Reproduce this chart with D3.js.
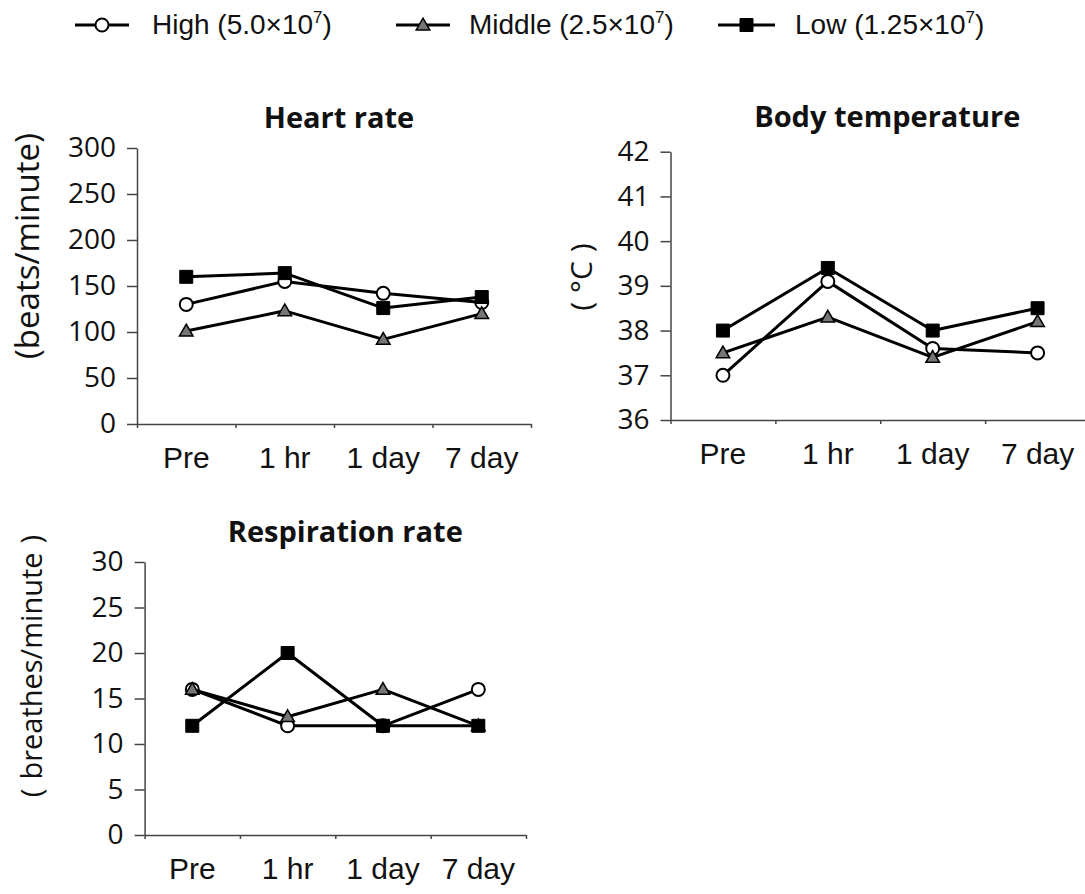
<!DOCTYPE html>
<html>
<head>
<meta charset="utf-8">
<script src="https://cdn.jsdelivr.net/npm/d3@7"></script>
<style>
  html, body { margin: 0; padding: 0; background: #fff; }
  svg { display: block; }
  .tick-num { font-family: "Open Sans", "Noto Sans", sans-serif; font-size: 28px; fill: #111; }
  .cat { font-family: "Liberation Sans", Arial, sans-serif; font-size: 30px; fill: #111; }
  .title { font-family: "Open Sans", sans-serif; font-weight: bold; font-size: 29px; fill: #111; }
  .ylab { font-family: "Open Sans", sans-serif; fill: #111; }
  .legend { font-family: "Liberation Sans", Arial, sans-serif; font-size: 28px; fill: #111; }
</style>
</head>
<body>
<div id="chart"></div>
<script>
// categories and series
const categories = ["Pre", "1 hr", "1 day", "7 day"];
const seriesNames = ["High", "Middle", "Low"];
const doses = ["5.0", "2.5", "1.25"];
const doseExponent = "7";

const heartHigh = [130, 155, 142, 132];
const heartMiddle = [101, 123, 92, 120];
const heartLow = [160, 164, 126, 138];
const heartTicks = [0, 50, 100, 150, 200, 250, 300];

const tempHigh = [37.0, 39.1, 37.6, 37.5];
const tempMiddle = [37.5, 38.3, 37.4, 38.2];
const tempLow = [38.0, 39.4, 38.0, 38.5];
const tempTicks = [36, 37, 38, 39, 40, 41, 42];

const respHigh = [16, 12, 12, 16];
const respMiddle = [16, 13, 16, 12];
const respLow = [12, 20, 12, 12];
const respTicks = [0, 5, 10, 15, 20, 25, 30];

const width = 1085;
const height = 894;

// yLabel parts: [open paren, text, close paren, gap around the text]
const panels = [
  {
    title: "Heart rate",
    yLabel: ["(", "beats/minute", ")", 0],
    yLabelSize: 33,
    values: [heartHigh, heartMiddle, heartLow],
    ticks: heartTicks,
    left: 137, right: 531, top: 148, bottom: 424,
    titleY: 128, titleDx: 5,
    yLabelX: 26, yLabelY: 246,
  },
  {
    title: "Body temperature",
    yLabel: ["(", "°C", ")", 9],
    yLabelSize: 30,
    values: [tempHigh, tempMiddle, tempLow],
    ticks: tempTicks,
    left: 670.5, right: 1090, top: 151.7, bottom: 420,
    titleY: 127, titleDx: 7,
    yLabelX: 580, yLabelY: 277,
  },
  {
    title: "Respiration rate",
    yLabel: ["(", "breathes/minute", ")", 9],
    yLabelSize: 29,
    values: [respHigh, respMiddle, respLow],
    ticks: respTicks,
    left: 144.6, right: 526, top: 562, bottom: 835,
    titleY: 542, titleDx: 10,
    yLabelX: 30, yLabelY: 666,
  },
];

const markerStyles = [
  { type: "circle", fill: "#fff" },
  { type: "triangle", fill: "#767676" },
  { type: "square", fill: "#000" },
];

const svg = d3.select("#chart").append("svg")
  .attr("width", width)
  .attr("height", height)
  .attr("viewBox", [0, 0, width, height]);

svg.append("rect").attr("width", width).attr("height", height).attr("fill", "#fff");

function drawMarker(g, style, x, y) {
  if (style.type === "circle") {
    g.append("circle")
      .attr("cx", x).attr("cy", y).attr("r", 6.5)
      .attr("fill", style.fill).attr("stroke", "#000").attr("stroke-width", 2);
  } else {
    const sym = style.type === "triangle" ? d3.symbolTriangle : d3.symbolSquare;
    const size = style.type === "triangle" ? 80 : 169;
    g.append("path")
      .attr("d", d3.symbol(sym, size)())
      .attr("transform", `translate(${x},${y + (style.type === "triangle" ? 1 : 0)})`)
      .attr("fill", style.fill).attr("stroke", "#000").attr("stroke-width", style.type === "triangle" ? 1.5 : 1);
  }
}

panels.forEach((p) => {
  const g = svg.append("g");

  const x = d3.scaleBand().domain(categories).range([p.left, p.right]);
  const xEdge = d3.scaleLinear().domain([0, categories.length]).range([p.left, p.right]);
  const y = d3.scaleLinear().domain(d3.extent(p.ticks)).range([p.bottom, p.top]);

  // y axis
  const gy = g.append("g")
    .attr("transform", `translate(${p.left},0)`)
    .call(d3.axisLeft(y).tickValues(p.ticks).tickFormat(d3.format("d"))
      .tickSize(10).tickSizeOuter(0).tickPadding(11));
  gy.select(".domain").attr("stroke", "#444").attr("stroke-width", 1.5);
  gy.selectAll(".tick line").attr("stroke", "#444").attr("stroke-width", 1.5);
  gy.selectAll(".tick text").attr("class", "tick-num").attr("font-family", null).attr("font-size", null).attr("fill", null);

  // x axis: tick marks at category boundaries
  const gx = g.append("g")
    .attr("transform", `translate(0,${p.bottom})`)
    .call(d3.axisBottom(xEdge).tickValues(d3.range(categories.length + 1)).tickSize(4).tickSizeOuter(0).tickFormat(""));
  gx.select(".domain").attr("stroke", "#444").attr("stroke-width", 1.5);
  gx.selectAll(".tick line").attr("stroke", "#444").attr("stroke-width", 1.5);

  // x category labels
  const gc = g.append("g")
    .attr("transform", `translate(0,${p.bottom})`)
    .call(d3.axisBottom(x).tickSize(0).tickPadding(23));
  gc.select(".domain").remove();
  gc.selectAll(".tick text").attr("class", "cat").attr("font-family", null).attr("font-size", null).attr("fill", null);

  // title
  g.append("text")
    .attr("class", "title")
    .attr("x", (p.left + p.right) / 2 + p.titleDx)
    .attr("y", p.titleY)
    .attr("text-anchor", "middle")
    .text(p.title);

  // y label
  const yl = g.append("text")
    .attr("class", "ylab")
    .attr("font-size", p.yLabelSize)
    .attr("transform", `translate(${p.yLabelX},${p.yLabelY}) rotate(-90)`)
    .attr("text-anchor", "middle")
    .attr("dominant-baseline", "central");
  const [open, body, close, gap] = p.yLabel;
  yl.append("tspan").text(open);
  yl.append("tspan").attr("dx", gap).text(body);
  yl.append("tspan").attr("dx", gap).text(close);

  const line = d3.line()
    .x((d, i) => x(categories[i]) + x.bandwidth() / 2)
    .y((d) => y(d));

  p.values.forEach((vals, si) => {
    const sg = g.append("g");
    sg.append("path")
      .datum(vals)
      .attr("d", line)
      .attr("fill", "none")
      .attr("stroke", "#000")
      .attr("stroke-width", 3)
      .attr("stroke-linejoin", "round");
    vals.forEach((v, i) => {
      drawMarker(sg, markerStyles[si], x(categories[i]) + x.bandwidth() / 2, y(v));
    });
  });
});

// legend
const legendItems = [
  { x0: 75, x1: 129, textX: 152 },
  { x0: 396, x1: 450, textX: 469 },
  { x0: 718, x1: 775, textX: 795 },
];
const legendY = 25;
const gl = svg.append("g");
seriesNames.forEach((name, i) => {
  const it = legendItems[i];
  gl.append("line")
    .attr("x1", it.x0).attr("x2", it.x1)
    .attr("y1", legendY).attr("y2", legendY)
    .attr("stroke", "#000").attr("stroke-width", 3);
  drawMarker(gl, markerStyles[i], (it.x0 + it.x1) / 2, legendY);
  const t = gl.append("text")
    .attr("class", "legend")
    .attr("x", it.textX)
    .attr("y", legendY + 9);
  t.append("tspan").text(`${name} (${doses[i]}×10`);
  t.append("tspan").attr("dy", -11).attr("font-size", 17).text(doseExponent);
  t.append("tspan").attr("dy", 11).text(")");
});
</script>
</body>
</html>
